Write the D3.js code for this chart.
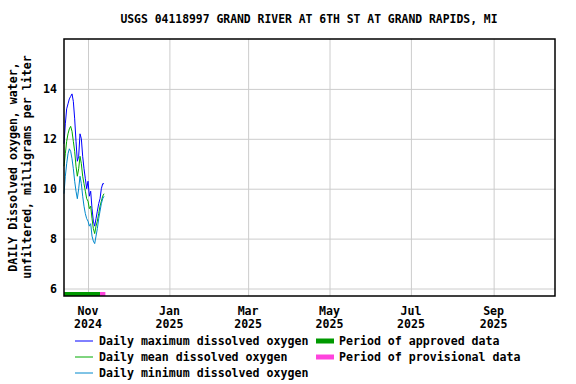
<!DOCTYPE html>
<html lang="en">
	<head>
		<meta charset="utf-8">
		<title>USGS 04118997</title>
		<script type="text/javascript" src="https://cdn.jsdelivr.net/npm/d3@7"></script>
		<style type="text/css">
			body { margin: 0; background: #fff; }
			text { font-family: 'DejaVu Sans Mono', monospace; font-weight: bold; fill: #000; }
		</style>
	</head>
	<body>
		<script type="text/javascript">
			var dates = ['2024-10-14','2024-10-15','2024-10-16','2024-10-17','2024-10-18','2024-10-19','2024-10-20',
				'2024-10-21','2024-10-22','2024-10-23','2024-10-24','2024-10-25','2024-10-26','2024-10-27',
				'2024-10-28','2024-10-29','2024-10-30','2024-10-31','2024-11-01','2024-11-02','2024-11-03',
				'2024-11-04','2024-11-05','2024-11-06','2024-11-07','2024-11-08','2024-11-09','2024-11-10',
				'2024-11-11','2024-11-12','2024-11-13'];
			var maxDO = [11.8, 12.6, 13.2, 13.4, 13.6, 13.7, 13.8, 13.5, 12.8, 11.9, 11.1, 11.3, 12.2, 12.0, 11.3, 10.8,
				10.4, 10.0, 10.3, 9.7, 9.9, 9.2, 8.7, 8.5, 8.8, 9.1, 9.4, 9.6, 10.0, 10.2, 10.2];
			var meanDO = [10.9, 11.4, 11.9, 12.2, 12.4, 12.5, 12.3, 11.9, 11.5, 10.9, 10.5, 10.8, 11.3, 11.0, 10.5, 10.2,
				9.9, 9.6, 9.5, 9.2, 9.3, 8.8, 8.4, 8.2, 8.5, 8.7, 9.0, 9.3, 9.5, 9.7, 9.8];
			var minDO = [9.8, 10.5, 11.0, 11.4, 11.6, 11.5, 11.2, 10.8, 10.3, 9.9, 9.6, 10.0, 10.5, 10.2, 9.7, 9.3,
				9.0, 8.8, 8.7, 8.5, 8.6, 8.1, 7.9, 7.8, 8.1, 8.4, 8.8, 9.1, 9.4, 9.6, 9.7];
			var approved = ['2024-10-14', '2024-11-10'];
			var provisional = ['2024-11-10', '2024-11-14'];
			var xTicks = ['2024-11-01','2025-01-01','2025-03-01','2025-05-01','2025-07-01','2025-09-01'];
			var yTicks = [6, 8, 10, 12, 14];

			var w = 576;
			var h = 384;
			var margin = {'left': 64, 'right': 21, 'top': 39, 'bottom': 88};
			var parse = d3.timeParse('%Y-%m-%d');
			var monFmt = d3.timeFormat('%b');
			var yrFmt = d3.timeFormat('%Y');

			var svg = d3.select('body').append('svg').attr('width', w).attr('height', h);

			var xScale = d3.scaleTime()
						   .domain([parse('2024-10-14'), parse('2025-10-17')])
						   .range([margin.left, w - margin.right]);
			var yScale = d3.scaleLinear()
						   .domain([5.7, 16])
						   .range([h - margin.bottom, margin.top]);

			// grid
			var xAxis = d3.axisBottom(xScale)
						  .tickValues(xTicks.map(parse))
						  .tickSize(-(h - margin.bottom - margin.top))
						  .tickFormat('');
			var gx = svg.append('g')
			   .attr('transform', 'translate(0,' + (h - margin.bottom) + ')')
			   .call(xAxis);
			gx.select('.domain').remove();
			gx.selectAll('line').attr('stroke', '#cccccc');

			var yAxis = d3.axisLeft(yScale)
						  .tickValues(yTicks)
						  .tickSize(-(w - margin.left - margin.right))
						  .tickPadding(7);
			var gy = svg.append('g')
			   .attr('transform', 'translate(' + margin.left + ',0)')
			   .call(yAxis);
			gy.select('.domain').remove();
			gy.selectAll('line').attr('stroke', '#cccccc');
			gy.selectAll('text').style('font-size', '11.6px').attr('dy', '0.35em');

			// x labels
			xTicks.forEach(function(t) {
				var d = parse(t);
				svg.append('text').attr('x', xScale(d)).attr('y', 315).attr('text-anchor', 'middle')
				   .style('font-size', '11.6px').text(monFmt(d));
				svg.append('text').attr('x', xScale(d)).attr('y', 328).attr('text-anchor', 'middle')
				   .style('font-size', '11.6px').text(yrFmt(d));
			});

			// data lines
			var series = [
				{vals: maxDO, color: '#0000ff'},
				{vals: meanDO, color: '#00aa00'},
				{vals: minDO, color: '#0088cc'}
			];
			series.forEach(function(s) {
				var line = d3.line()
							 .x(function(d, i) { return xScale(parse(dates[i])); })
							 .y(function(d) { return yScale(d); });
				svg.append('path')
				   .datum(s.vals)
				   .attr('fill', 'none')
				   .attr('stroke', s.color)
				   .attr('stroke-width', 1)
				   .attr('d', line);
			});

			// approval periods
			svg.append('rect')
			   .attr('x', xScale(parse(approved[0])))
			   .attr('width', xScale(parse(approved[1])) - xScale(parse(approved[0])))
			   .attr('y', yScale(5.7) - 4).attr('height', 4)
			   .attr('fill', '#009900');
			svg.append('rect')
			   .attr('x', xScale(parse(provisional[0])))
			   .attr('width', xScale(parse(provisional[1])) - xScale(parse(provisional[0])))
			   .attr('y', yScale(5.7) - 4).attr('height', 4)
			   .attr('fill', '#ff44dd');

			// frame
			svg.append('rect')
			   .attr('x', margin.left).attr('y', margin.top)
			   .attr('width', w - margin.left - margin.right)
			   .attr('height', h - margin.top - margin.bottom)
			   .attr('fill', 'none').attr('stroke', '#000').attr('stroke-width', 1.5);

			// title
			svg.append('text').attr('x', 309).attr('y', 23).attr('text-anchor', 'middle')
			   .style('font-size', '11.4px')
			   .text('USGS 04118997 GRAND RIVER AT 6TH ST AT GRAND RAPIDS, MI');

			// y label
			var yl = svg.append('text')
			   .attr('transform', 'translate(17,' + 167 + ') rotate(-90)')
			   .attr('text-anchor', 'middle')
			   .style('font-size', '11.6px');
			yl.append('tspan').attr('x', 0).attr('dy', 0).text('DAILY Dissolved oxygen, water,');
			yl.append('tspan').attr('x', 0).attr('dy', 14).text('unfiltered, milligrams per liter');

			// legend
			var legLines = [
				{label: 'Daily maximum dissolved oxygen', color: '#0000ff'},
				{label: 'Daily mean dissolved oxygen', color: '#00aa00'},
				{label: 'Daily minimum dissolved oxygen', color: '#0088cc'}
			];
			legLines.forEach(function(l, i) {
				var y = 341 + i * 16;
				svg.append('line').attr('x1', 75).attr('x2', 93).attr('y1', y).attr('y2', y)
				   .attr('stroke', l.color).attr('stroke-width', 1);
				svg.append('text').attr('x', 99).attr('y', y + 4).style('font-size', '11.6px').text(l.label);
			});
			var legBars = [
				{label: 'Period of approved data', color: '#009900'},
				{label: 'Period of provisional data', color: '#ff44dd'}
			];
			legBars.forEach(function(l, i) {
				var y = 341 + i * 16;
				svg.append('rect').attr('x', 316).attr('y', y - 2.5).attr('width', 18).attr('height', 5)
				   .attr('fill', l.color);
				svg.append('text').attr('x', 339).attr('y', y + 4).style('font-size', '11.6px').text(l.label);
			});
		</script>
	</body>
</html>
